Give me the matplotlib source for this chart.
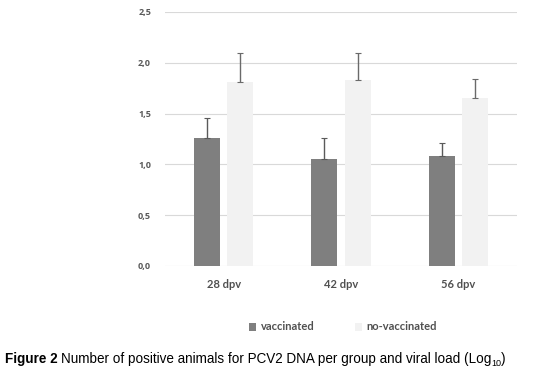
import matplotlib
matplotlib.use("Agg")
import matplotlib.pyplot as plt
from matplotlib.patches import Patch
import numpy as np

categories = ["28 dpv", "42 dpv", "56 dpv"]
vaccinated = [1.26, 1.05, 1.08]
vaccinated_err = [0.20, 0.21, 0.13]
no_vaccinated = [1.81, 1.83, 1.65]
no_vaccinated_err = [0.29, 0.27, 0.19]
yticks = [0.0, 0.5, 1.0, 1.5, 2.0, 2.5]
ytick_labels = ["0,0", "0,5", "1,0", "1,5", "2,0", "2,5"]
series_names = ["vaccinated", "no-vaccinated"]

W, H = 553, 381
fig = plt.figure(figsize=(W / 100, H / 100), dpi=100)
ax = fig.add_axes([165 / W, 1 - 266 / H, (517 - 165) / W, (266 - 12) / H])

x = np.arange(len(categories))
bw = 0.222
off = 0.143
c_vac = "#7f7f7f"
c_non = "#f2f2f2"

ax.bar(x - off, vaccinated, bw, color=c_vac, zorder=2)
ax.bar(x + off, no_vaccinated, bw, color=c_non, zorder=2)
ax.errorbar(x - off, vaccinated, yerr=[[0] * 3, vaccinated_err], fmt="none",
            ecolor="#5a5a5a", elinewidth=1.0, capsize=2.5, capthick=0.8, zorder=3)
ax.errorbar(x + off, no_vaccinated, yerr=[[0] * 3, no_vaccinated_err], fmt="none",
            ecolor="#6a6a6a", elinewidth=1.0, capsize=2.5, capthick=0.8, zorder=3)

ax.set_xlim(-0.5, 2.5)
ax.set_ylim(0, 2.5)
ax.set_yticks(yticks)
ax.set_yticklabels(ytick_labels)
ax.set_xticks(x)
ax.set_xticklabels(categories)
ax.grid(axis="y", color="#d9d9d9", linewidth=0.8, zorder=0)
for s in ax.spines.values():
    s.set_visible(False)
ax.tick_params(axis="both", length=0)
ax.tick_params(axis="y", pad=10)
ax.tick_params(axis="x", pad=9)
for lab in ax.get_yticklabels():
    lab.set_fontfamily("Open Sans")
    lab.set_fontweight("bold")
    lab.set_fontsize(6.5)
    lab.set_color("#595959")
for lab in ax.get_xticklabels():
    lab.set_fontfamily("Lato")
    lab.set_fontweight("bold")
    lab.set_fontsize(8)
    lab.set_color("#505050")

handles = [Patch(facecolor=c_vac, label=series_names[0]),
           Patch(facecolor=c_non, label=series_names[1])]
leg = fig.legend(handles=handles, loc="center", bbox_to_anchor=(343 / W, 1 - 327 / H),
                 ncol=2, frameon=False, handlelength=0.7, handleheight=0.7,
                 handletextpad=0.4, columnspacing=3.6,
                 prop={"family": "Lato", "weight": "bold", "size": 8})
for t in leg.get_texts():
    t.set_color("#505050")

# caption
fig.canvas.draw()
r = fig.canvas.get_renderer()
cy = 1 - 363 / H
fs = 9.75
t1 = fig.text(5 / W, cy, "Figure 2", fontfamily="Liberation Sans", fontweight="bold",
              fontsize=fs, va="baseline")
bb = t1.get_window_extent(r)
t2 = fig.text((bb.x1 + 3) / W, cy,
              "Number of positive animals for PCV2 DNA per group and viral load (Log",
              fontfamily="Liberation Sans", fontsize=fs, va="baseline")
bb2 = t2.get_window_extent(r)
t3 = fig.text(bb2.x1 / W, cy - 3 / H, "10", fontfamily="Liberation Sans", fontsize=6.5,
              va="baseline")
bb3 = t3.get_window_extent(r)
fig.text(bb3.x1 / W, cy, ")", fontfamily="Liberation Sans", fontsize=fs, va="baseline")

fig.savefig("out.png", dpi=100)
